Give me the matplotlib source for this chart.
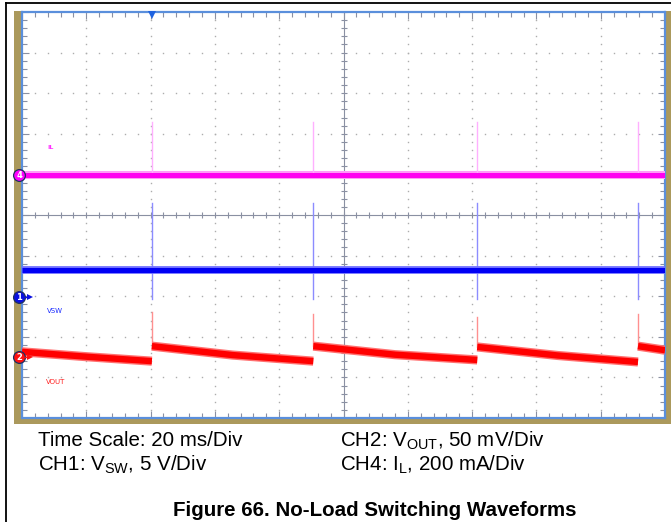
import matplotlib
matplotlib.use('Agg')
import matplotlib.pyplot as plt
from matplotlib.patches import Rectangle
from matplotlib.lines import Line2D
import numpy as np

# --- values (x in ms, y in screen divisions) ---
switch_times = [40.4, 90.6, 141.6, 191.6]

il_level = 0.98
il_spike_top = 2.29

vsw_level = -1.35
vsw_spike_top = 0.30
vsw_spike_bottom = -2.08

# vout sawtooth: (time, level) points per segment between switching events
vout_segments = [
    [(0.0, -3.37), (20.0, -3.49), (40.4, -3.60)],
    [(40.4, -3.23), (65.5, -3.45), (90.6, -3.60)],
    [(90.6, -3.23), (116.0, -3.44), (141.6, -3.57)],
    [(141.6, -3.25), (166.6, -3.46), (191.6, -3.62)],
    [(191.6, -3.23), (200.0, -3.33)],
]
vout_spike_tops = [-2.39, -2.43, -2.51, -2.45]

# channel ground markers (label, level, colour)
markers = [("4", 0.98, "#ff00ff"), ("1", -2.02, "#0a10e0"), ("2", -3.50, "#ff1010")]

W, H = 671, 522
fig = plt.figure(figsize=(W / 100, H / 100), dpi=100)


def fx(px):
    return px / W


def fy(py):
    return 1 - py / H


# outer document frame
fig.add_artist(Line2D([fx(6), fx(671)], [fy(3), fy(3)], color="black", lw=1.3))
fig.add_artist(Line2D([fx(6), fx(6)], [fy(3), fy(522)], color="black", lw=1.3))

# gold bezel of the screenshot
gold = "#ab995c"
for r in [Rectangle((fx(14), fy(424)), fx(8), fy(11) - fy(424)),
          Rectangle((fx(665), fy(424)), fx(6), fy(11) - fy(424)),
          Rectangle((fx(14), fy(424)), fx(657), fy(419) - fy(424))]:
    r.set_color(gold)
    r.set_linewidth(0)
    r.set_zorder(-1)
    fig.add_artist(r)

ax = fig.add_axes([fx(22), fy(418), fx(643), fy(12) - fy(418)])
ax.set_zorder(5)
ax.set_xlim(0, 200)
ax.set_ylim(-5, 5)
for s in ax.spines.values():
    s.set_color("#5a8fdc")
    s.set_linewidth(1.6)

gcol = "#8a90a2"
xminor = np.arange(0, 200.1, 4)
yminor = np.arange(-5, 5.01, 0.2)
ax.set_xticks(np.arange(0, 201, 20))
ax.set_yticks(np.arange(-5, 6, 1))
ax.set_xticks(xminor, minor=True)
ax.set_yticks(yminor, minor=True)
ax.tick_params(which="both", direction="in", top=True, right=True,
               labelbottom=False, labelleft=False, color=gcol, width=0.8)
ax.tick_params(which="major", length=5)
ax.tick_params(which="minor", length=3.5)

# dotted graticule
dot = "#adadad"
for gx in range(20, 200, 20):
    if gx != 100:
        ax.plot([gx] * len(yminor), yminor, ls="none", marker="s", ms=1.0, color=dot, mew=0)
for gy in range(-4, 5):
    if gy != 0:
        ax.plot(xminor, [gy] * len(xminor), ls="none", marker="s", ms=1.0, color=dot, mew=0)

# centre cross with ticks
ax.axhline(0, color=gcol, lw=0.8, zorder=1)
ax.axvline(100, color=gcol, lw=0.8, zorder=1)
ax.plot(xminor, [0] * len(xminor), ls="none", marker="|", ms=5, mew=0.8, color=gcol)
ax.plot([100] * len(yminor), yminor, ls="none", marker="_", ms=5, mew=0.8, color=gcol)

# IL trace (magenta)
ax.plot([0, 200], [il_level, il_level], color="#ff9af7", lw=5.8, zorder=3, solid_capstyle="butt")
ax.plot([0, 200], [il_level, il_level], color="#ff00f0", lw=3.6, zorder=4, solid_capstyle="butt")
for t in switch_times:
    ax.plot([t, t], [il_level, il_spike_top], color="#ffb0ff", lw=1.0, zorder=3)

# VSW trace (blue)
for t in switch_times:
    ax.plot([t, t], [vsw_spike_bottom, vsw_spike_top], color="#8c8cff", lw=1.0, zorder=3)
ax.plot([0, 200], [vsw_level, vsw_level], color="#7070ff", lw=5.6, zorder=3, solid_capstyle="butt")
ax.plot([0, 200], [vsw_level, vsw_level], color="#0000f5", lw=3.6, zorder=4, solid_capstyle="butt")

# VOUT trace (red)
for t, top, seg in zip(switch_times, vout_spike_tops, vout_segments[1:]):
    ax.plot([t, t], [seg[0][1], top], color="#ff9090", lw=1.0, zorder=3)
for seg in vout_segments:
    xs = [p[0] for p in seg]
    ys = [p[1] for p in seg]
    ax.plot(xs, ys, color="#ff7070", lw=6.6, zorder=3, solid_capstyle="butt")
    ax.plot(xs, ys, color="#ff0000", lw=4.6, zorder=4, solid_capstyle="butt")

# trace labels
ax.text(8.0, 1.67, "IL", color="#ff30ff", fontsize=4.5, va="center", fontweight="bold")
ax.text(7.8, -2.36, "VSW", color="#1a2cff", fontsize=5, va="center")
ax.text(7.3, -4.11, "VOUT", color="#ff2020", fontsize=5, va="center")

# channel ground markers
ytr = ax.get_yaxis_transform()
for lab, lev, col in markers:
    ax.plot([-0.004], [lev], marker="o", ms=8.5, color=col, mec="#203060", mew=0.9,
            transform=ytr, clip_on=False, zorder=8)
    ax.text(-0.004, lev, lab, color="white", fontsize=6, ha="center", va="center",
            transform=ytr, zorder=9, fontweight="bold", clip_on=False)
    if lab != "4":
        ax.plot([0.004, 0.011], [lev, lev], color=col, lw=1.0, transform=ytr,
                clip_on=False, zorder=8)
        ax.plot([0.012], [lev], marker=">", ms=3.8, color=col, mew=0, transform=ytr,
                clip_on=False, zorder=8)

# trigger position marker
ax.plot([switch_times[0]], [4.93], marker="v", ms=6, color="#1f63e0", mew=0, clip_on=False, zorder=6)

# caption
fam = ["Liberation Sans", "DejaVu Sans"]
cap = dict(fontsize=14.8, family=fam, va="center", ha="left")
fig.text(fx(38), fy(441), "Time Scale: 20 ms/Div", **cap)
fig.text(fx(38), fy(465), r"CH1: $\mathregular{V_{SW}}$, 5 V/Div", **cap)
fig.text(fx(340), fy(441), r"CH2: $\mathregular{V_{OUT}}$, 50 mV/Div", **cap)
fig.text(fx(340), fy(465), r"CH4: $\mathregular{I_{L}}$, 200 mA/Div", **cap)
fig.text(fx(375), fy(510), "Figure 66. No-Load Switching Waveforms", fontsize=14.8,
         family=fam, fontweight="bold", ha="center", va="center")

fig.savefig("out.png", dpi=100)
